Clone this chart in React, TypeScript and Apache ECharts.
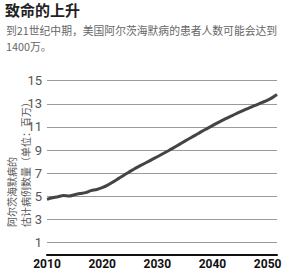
import React, { useEffect, useRef } from "react";
import * as echarts from "echarts";

const titleText = "致命的上升";
const subtitleLines = ["到21世纪中期，美国阿尔茨海默病的患者人数可能会达到", "1400万。"];
const yAxisNameLines = ["阿尔茨海默病的", "估计病例数量（单位：百万）"];

const years = [
  2010, 2011, 2012, 2013, 2014, 2015, 2016, 2017, 2018, 2019, 2020, 2021, 2022, 2023, 2024, 2025,
  2026, 2027, 2028, 2029, 2030, 2031, 2032, 2033, 2034, 2035, 2036, 2037, 2038, 2039, 2040, 2041,
  2042, 2043, 2044, 2045, 2046, 2047, 2048, 2049, 2050, 2051, 2051.7,
];
const cases = [
  4.75, 4.88, 4.98, 5.08, 5.03, 5.15, 5.25, 5.33, 5.5, 5.6, 5.76, 5.98, 6.26, 6.56, 6.86, 7.14,
  7.42, 7.68, 7.93, 8.18, 8.43, 8.69, 8.95, 9.22, 9.5, 9.78, 10.05, 10.32, 10.6, 10.86, 11.12, 11.38,
  11.62, 11.86, 12.08, 12.3, 12.52, 12.72, 12.92, 13.12, 13.32, 13.58, 13.8,
];
const xTicks = [2010, 2020, 2030, 2040, 2050];

export default function App() {
  const ref = useRef<HTMLDivElement>(null);
  useEffect(() => {
    if (!ref.current) return;
    const chart = echarts.init(ref.current, undefined, { renderer: "svg" });
    const cjk = "'Noto Sans CJK SC', 'Noto Sans', sans-serif";
    chart.setOption({
      animation: false,
      backgroundColor: "#ffffff",
      grid: { left: 47, right: 27, top: 80.7, bottom: 17.7 },
      xAxis: {
        type: "value",
        min: 2010,
        max: 2051.7,
        interval: 10,
        axisLine: { show: true, onZero: false, lineStyle: { color: "#111", width: 2 } },
        axisTick: { show: false },
        splitLine: { show: false },
        axisLabel: {
          margin: 4,
          color: "#111",
          fontSize: 12,
          fontWeight: "bold",
          fontFamily: "Roboto, sans-serif",
          formatter: (v: number) => (xTicks.includes(v) ? String(v) : ""),
        },
      },
      yAxis: {
        type: "value",
        min: 0,
        max: 15,
        interval: 1,
        axisLine: { show: false },
        axisTick: { show: false },
        splitLine: { show: true, lineStyle: { color: ["transparent", "#9a9a9a"], width: 1 } },
        axisLabel: {
          margin: 5,
          color: "#555",
          fontSize: 13,
          fontFamily: "'Liberation Sans Narrow', 'Roboto', sans-serif",
          formatter: (v: number) => (v % 2 === 1 ? String(v) : ""),
        },
      },
      graphic: [
        {
          type: "text",
          left: 5,
          top: 2,
          style: { text: titleText, fontSize: 15, fontWeight: "bold", fill: "#222", fontFamily: cjk },
        },
        {
          type: "text",
          left: 6,
          top: 23.3,
          style: { text: subtitleLines[0], fontSize: 10.8, lineHeight: 13, fill: "#666", fontFamily: cjk },
        },
        {
          type: "text",
          left: 6,
          top: 39,
          style: { text: subtitleLines[1], fontSize: 10.8, lineHeight: 13, fill: "#666", fontFamily: cjk },
        },
        {
          type: "text",
          x: 5,
          y: 227,
          rotation: Math.PI / 2,
          style: {
            text: yAxisNameLines[0],
            fontSize: 10,
            lineHeight: 12,
            fill: "#555",
            fontFamily: cjk,
            align: "left",
            verticalAlign: "top",
          },
        },
        {
          type: "text",
          x: 19,
          y: 227,
          rotation: Math.PI / 2,
          style: {
            text: yAxisNameLines[1],
            fontSize: 10,
            lineHeight: 12,
            fill: "#555",
            fontFamily: cjk,
            align: "left",
            verticalAlign: "top",
          },
        },
      ],
      series: [
        {
          type: "line",
          data: years.map((y, i) => [y, cases[i]]),
          showSymbol: false,
          smooth: 0.3,
          lineStyle: { color: "#444", width: 3 },
        },
      ],
    });
    return () => chart.dispose();
  }, []);
  return <div ref={ref} style={{ width: 304, height: 272, position: "absolute", left: 0, top: 0 }} />;
}
